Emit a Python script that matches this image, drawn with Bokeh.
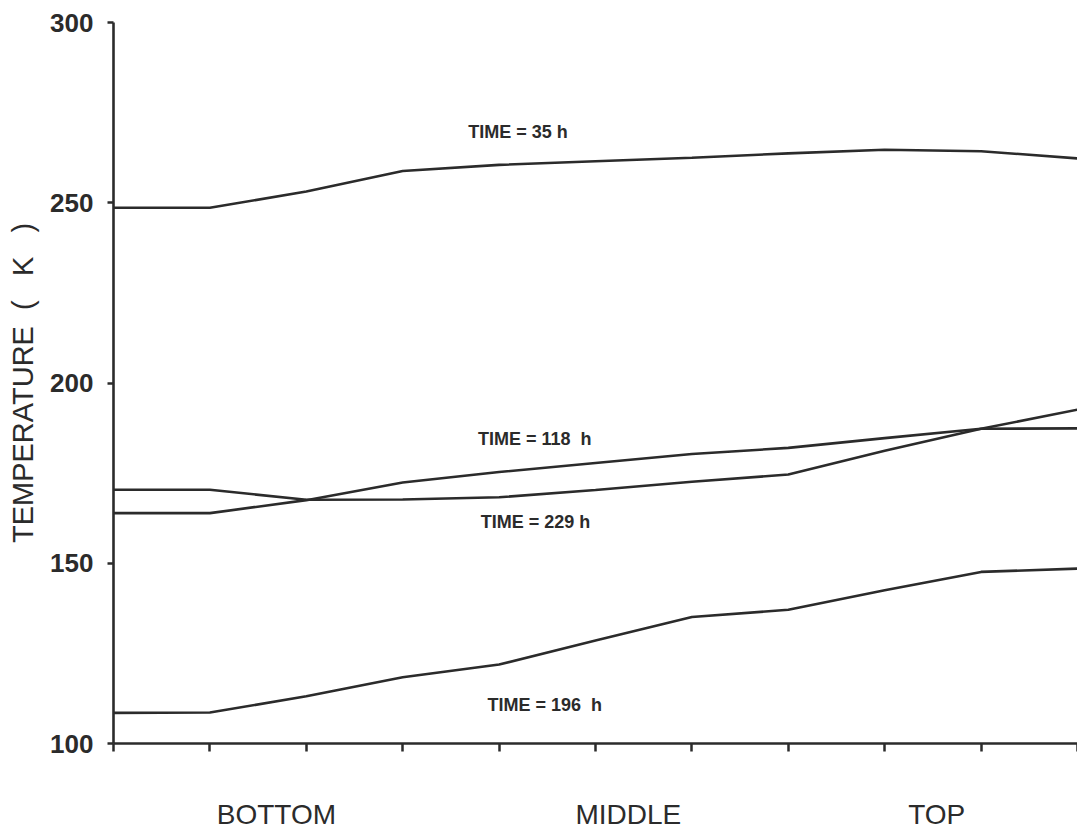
from bokeh.plotting import figure
from bokeh.models import FixedTicker, Range1d
from bokeh.core.properties import value
from bokeh.embed import file_html
from bokeh.resources import INLINE

# measurement positions along the column (index 0..10)
positions = [0, 1, 2, 3, 4, 5, 6, 7, 8, 9, 10]

t35 = [248.6, 248.6, 253.1, 258.8, 260.5, 261.5, 262.5, 263.7, 264.7, 264.3, 262.3]
t118 = [163.9, 163.9, 167.5, 172.4, 175.3, 177.8, 180.3, 182.0, 184.7, 187.3, 187.4]
t229 = [170.4, 170.4, 167.6, 167.7, 168.3, 170.3, 172.6, 174.6, 181.2, 187.3, 192.6]
t196 = [108.5, 108.6, 113.1, 118.4, 121.9, 128.6, 135.1, 137.1, 142.5, 147.6, 148.5]

series = [t35, t118, t229, t196]

label_texts = ["TIME = 35 h", "TIME = 118\u00a0 h", "TIME = 229 h", "TIME = 196\u00a0 h"]
label_x = [3.68, 3.78, 3.81, 3.88]
label_y = [269.7, 184.6, 161.4, 110.8]

region_names = ["BOTTOM", "MIDDLE", "TOP"]
region_pos = [1.69, 5.34, 8.54]

y_ticks = [100, 150, 200, 250, 300]

INK = "#2b2b2b"
FONT = "Liberation Sans"

p = figure(width=1077, height=832, output_backend="svg", toolbar_location=None,
           x_range=Range1d(0, 10), y_range=Range1d(100, 300),
           min_border_left=113, min_border_right=0, min_border_top=22,
           min_border_bottom=89)
p.outline_line_color = None
p.xgrid.visible = False
p.ygrid.visible = False
p.background_fill_color = "white"
p.border_fill_color = "white"

for s in series:
    p.line(positions, s, line_color=INK, line_width=2.6)

p.text(x=label_x, y=label_y, text=label_texts, text_font=value(FONT),
       text_font_size="18px", text_font_style="bold", text_color=INK,
       text_align="left", text_baseline="middle")

# x axis: region names as labels, tick marks at each position via minor ticks
xa = p.xaxis[0]
xa.ticker = FixedTicker(ticks=region_pos, minor_ticks=positions)
xa.major_label_overrides = {v: n for v, n in zip(region_pos, region_names)}
xa.major_tick_line_color = None
xa.major_tick_out = 0
xa.major_tick_in = 0
xa.minor_tick_out = 8
xa.minor_tick_in = 0
xa.minor_tick_line_color = INK
xa.minor_tick_line_width = 2.5
xa.axis_line_color = INK
xa.axis_line_width = 2.6
xa.major_label_text_font = FONT
xa.major_label_text_font_size = "28px"
xa.major_label_text_color = INK
xa.major_label_standoff = 47

ya = p.yaxis[0]
ya.ticker = FixedTicker(ticks=y_ticks, minor_ticks=[])
ya.major_tick_out = 6
ya.major_tick_in = 0
ya.major_tick_line_color = INK
ya.major_tick_line_width = 2.5
ya.axis_line_color = INK
ya.axis_line_width = 2.6
ya.major_label_text_font = FONT
ya.major_label_text_font_size = "26px"
ya.major_label_text_font_style = "bold"
ya.major_label_text_color = INK
ya.major_label_standoff = 14
ya.axis_label = "TEMPERATURE\u00a0\u00a0(\u00a0\u00a0\u00a0K\u00a0\u00a0\u00a0)"
ya.axis_label_text_font = FONT
ya.axis_label_text_font_size = "29px"
ya.axis_label_text_font_style = "normal"
ya.axis_label_text_color = INK
ya.axis_label_standoff = 8

open("out.html", "w").write(file_html(p, INLINE))
